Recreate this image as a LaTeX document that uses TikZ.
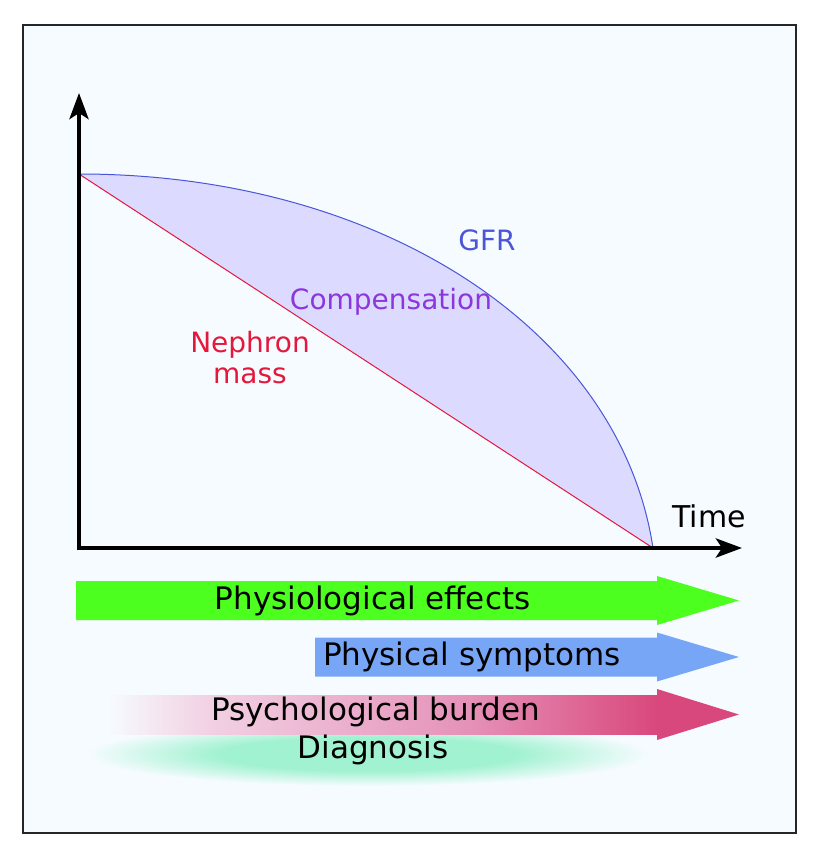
\documentclass[tikz,border=0pt]{standalone}
\usepackage{fontspec}
\setmainfont{DejaVu Sans}
\usepackage{tikz}
\usetikzlibrary{arrows.meta,positioning}
\definecolor{paper}{RGB}{246,251,255}
\definecolor{gfrblue}{RGB}{75,85,215}
\definecolor{compfill}{RGB}{220,218,255}
\definecolor{nephred}{RGB}{228,24,60}
\definecolor{comppurple}{RGB}{140,55,220}
\definecolor{physgreen}{RGB}{76,255,30}
\definecolor{sympblue}{RGB}{120,166,247}
\definecolor{burdenlight}{RGB}{242,210,228}
\definecolor{burdenmid}{RGB}{229,145,184}
\definecolor{burdendark}{RGB}{217,72,124}
\definecolor{diagmint}{RGB}{160,242,208}
\pgfdeclareradialshading{diagglow}{\pgfpoint{0bp}{0bp}}{color(0bp)=(diagmint); color(13bp)=(diagmint); color(25bp)=(paper); color(50bp)=(paper)}
\tikzset{axisline/.style={line width=4.5pt, -{Stealth[length=26pt,width=19pt,inset=6pt]}}}
\tikzset{plotlabel/.style={font=\fontsize{28}{31}\selectfont, inner sep=0pt}}
\tikzset{barlabel/.style={font=\fontsize{31}{34}\selectfont, inner sep=0pt, text=black}}

\begin{document}
\begin{tikzpicture}[x=1pt,y=-1pt]
\def\xorig {79}     % x-position of the vertical axis
\def\yorig {548}    % y-position of the time axis
\def\ystart {174}   % height where both curves start
\def\xend {653}     % where both curves meet the time axis
\def\headx {657}    % where the arrow heads begin
\def\tipx {739}     % tip of the arrow heads
\def\bodyh {19.5}   % half height of an arrow body
\def\headh {24.5}   % half height of an arrow head
\def\yphys {600.5}  % centre line of the arrows
\def\ysymp {657}
\def\yburd {714.5}
\useasboundingbox (0,0) rectangle (820,856);
% frame:
 \draw[line width=2.5pt, draw=black!85, fill=paper] (23,25) rectangle (796,833);
% curves:
 \coordinate (start) at (\xorig,\ystart);
 \coordinate (meet) at (\xend,\yorig);
 \fill[compfill] (start) .. controls (380,\ystart) and (620,330) .. (meet) -- cycle;
 \draw[draw=nephred, line width=1pt] (start) -- (meet);
 \draw[draw=gfrblue, line width=1pt] (start) .. controls (380,\ystart) and (620,330) .. (meet);
 \node[plotlabel, text=gfrblue] (gfr) at (487,240) {GFR};
 \node[plotlabel, text=comppurple] (comp) at (391,302) {Compensation};
 \node[plotlabel, text=nephred, align=center] (neph) at (250,358) {Nephron\\mass};
%% axes:
 \coordinate (orig) at (\xorig,\yorig);
 \coordinate (ytip) at (\xorig,93);
 \coordinate (xtip) at (742,\yorig);
 \draw[axisline] ([yshift=-2.25pt]orig) -- (ytip);
 \draw[axisline] ([xshift=-2.25pt]orig) -- (xtip);
 \node[plotlabel, text=black, font=\fontsize{30}{33}\selectfont] (time) at (709,516) {Time};
%% diagnosis glow:
 \shade[shading=diagglow] (368,754) ellipse (282 and 32);
%% arrows:
 \fill[physgreen] (76,\yphys-\bodyh) -- (\headx,\yphys-\bodyh) -- (\headx,\yphys-\headh) -- (\tipx,\yphys)
   -- (\headx,\yphys+\headh) -- (\headx,\yphys+\bodyh) -- (76,\yphys+\bodyh) -- cycle;
 \fill[sympblue] (315,\ysymp-\bodyh) -- (\headx,\ysymp-\bodyh) -- (\headx,\ysymp-\headh) -- (\tipx,\ysymp)
   -- (\headx,\ysymp+\headh) -- (\headx,\ysymp+\bodyh) -- (315,\ysymp+\bodyh) -- cycle;
 \shade[left color=paper, right color=burdenlight] (108,\yburd-\bodyh) rectangle (205,\yburd+\bodyh);
 \shade[left color=burdenlight, right color=burdenmid] (204.5,\yburd-\bodyh) rectangle (470,\yburd+\bodyh);
 \shade[left color=burdenmid, right color=burdendark] (469.5,\yburd-\bodyh) rectangle (\headx+0.5,\yburd+\bodyh);
 \fill[burdendark] (\headx,\yburd-\headh-1) -- (\tipx,\yburd) -- (\headx,\yburd+\headh+1) -- cycle;
 \node[barlabel] (phys) at (372.5,\yphys) {Physiological effects};
 \node[barlabel] (symp) at (472,\ysymp) {Physical symptoms};
 \node[barlabel] (burd) at (375.5,712) {Psychological burden};
 \node[barlabel] (diag) at (373,750) {Diagnosis};
\end{tikzpicture}
\end{document}
